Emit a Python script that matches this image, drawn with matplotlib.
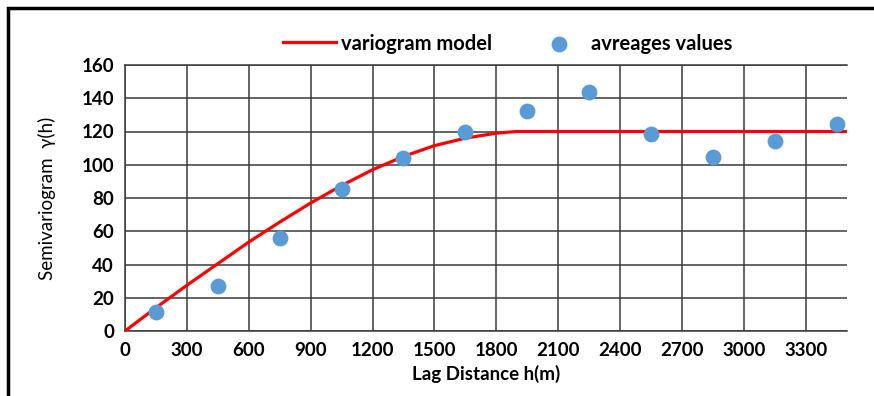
import matplotlib.pyplot as plt
from matplotlib.patches import Rectangle

# lectura del gráfico
lag_pts = [150, 450, 750, 1050, 1350, 1650, 1950, 2250, 2550, 2850, 3150, 3450]
gamma_pts = [11.5, 27, 55.7, 85.2, 104, 120, 132.3, 144, 118.5, 104.5, 114, 124.7]

lag_model = [0, 150, 300, 450, 600, 750, 900, 1050, 1200, 1350, 1500, 1650, 1800, 1900, 3500]
gamma_model = [0, 14, 27.5, 40.5, 53.5, 65.5, 77, 87.5, 97, 105, 111.5, 116, 119, 120, 120]

x_ticks = list(range(0, 3301, 300))
y_ticks = list(range(0, 161, 20))

plt.rcParams['font.family'] = ['Lato', 'DejaVu Sans']

fig = plt.figure(figsize=(8.74, 3.96), dpi=100)
ax = fig.add_axes([125/874, 1-331/396, 722/874, 266/396])

grid_c = "#3a3a3a"
ax.plot(lag_model, gamma_model, color="#ff0000", lw=2.3, label="variogram model", zorder=3)
ax.scatter(lag_pts, gamma_pts, s=130, color="#5b9bd5", label="avreages values", zorder=4, linewidths=0)

ax.set_xlim(0, 3500)
ax.set_ylim(0, 160)
ax.set_xticks(x_ticks)
ax.set_yticks(y_ticks)
ax.grid(True, color=grid_c, lw=1.1)
ax.set_axisbelow(True)
ax.tick_params(length=0, labelsize=13.5, pad=8)
for lab in ax.get_xticklabels() + ax.get_yticklabels():
    lab.set_fontweight("bold")
ax.spines["right"].set_visible(False)
for s in ["left", "bottom", "top"]:
    ax.spines[s].set_color(grid_c)
    ax.spines[s].set_linewidth(1.1)

ax.set_xlabel("Lag Distance h(m)", fontsize=13.5, fontweight="bold", labelpad=4)
ax.set_ylabel("Semivariogram  γ(h)", fontsize=13.5, labelpad=18)

ax.legend(loc="lower center", bbox_to_anchor=(0.53, 0.975), ncol=2, frameon=False,
          prop={"weight": "bold", "size": 14.5},
          handlelength=2.65, columnspacing=2.0, handletextpad=0.25)

# marco exterior
fig.patches.append(Rectangle((8/874, -0.1), 1.2, 1 - 8/396 + 0.1, transform=fig.transFigure,
                             fill=False, edgecolor="black", lw=2.5))

fig.savefig("out.png", dpi=100)
